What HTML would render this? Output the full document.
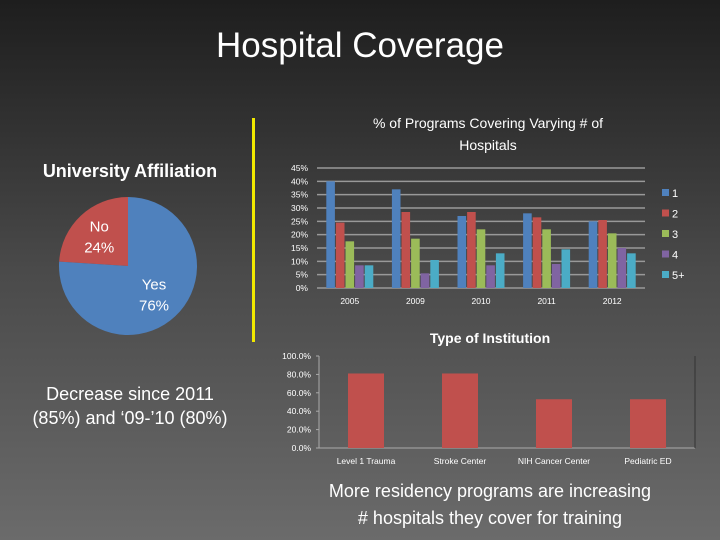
<!DOCTYPE html>
<html><head><meta charset="utf-8"><style>
html,body{margin:0;padding:0}
body{width:720px;height:540px;overflow:hidden;background:linear-gradient(#1e1e1e 0%,#333 25%,#4a4a4a 50%,#5a5a5a 75%,#6b6b6b 100%);font-family:"Liberation Sans","DejaVu Sans",sans-serif;position:relative}
.t{position:absolute;color:#fff;text-align:center}
</style></head><body>
<div class="t" style="left:0;width:720px;top:26px;font-size:35px">Hospital Coverage</div>
<div style="position:absolute;left:252px;top:118px;width:3px;height:224px;background:#f0e800"></div>
<div class="t" style="left:20px;width:220px;top:161px;font-size:18px;font-weight:bold">University Affiliation</div>
<div class="t" style="left:0;width:260px;top:382px;font-size:18px;line-height:24px">Decrease since 2011<br>(85%) and ‘09-’10 (80%)</div>
<div class="t" style="left:270px;width:440px;top:478px;font-size:18px;line-height:27px">More residency programs are increasing<br># hospitals they cover for training</div>
<svg id="s" width="720" height="540" style="position:absolute;left:0;top:0" font-family="Liberation Sans, DejaVu Sans, sans-serif"></svg>
<script>
const pieLabels=["Yes","No"];
const pieValues=[76,24];
const years=["2005","2009","2010","2011","2012"];
const seriesNames=["1","2","3","4","5+"];
const s1=[40,37,27,28,25];
const s2=[24.5,28.5,28.5,26.5,25.5];
const s3=[17.5,18.5,22,22,20.5];
const s4=[8.5,5.5,8.5,9,15];
const s5=[8.5,10.5,13,14.5,13];
const yTicks1=[0,5,10,15,20,25,30,35,40,45];
const instCats=["Level 1 Trauma","Stroke Center","NIH Cancer Center","Pediatric ED"];
const instValues=[81,81,53,53];
const yTicks2=[0,20,40,60,80,100];
const colors=["#4f81bd","#c0504d","#9bbb59","#8064a2","#4bacc6"];
const svg=document.getElementById('s');
const NS="http://www.w3.org/2000/svg";
function mk(tag,a,txt){const e=document.createElementNS(NS,tag);for(const k in a)e.setAttribute(k,a[k]);if(txt!==undefined)e.textContent=txt;svg.appendChild(e);return e;}
const cx=128,cy=266,r=69;
let ang=-90;const pieCols=["#4f81bd","#c0504d"];
const order=[1,0];
order.forEach(i=>{const sweep=pieValues[i]/100*360;const a0=ang*Math.PI/180;const a1=(ang-sweep)*Math.PI/180;
const p=mk('path',{d:`M${cx},${cy}L${cx+r*Math.cos(a0)},${cy+r*Math.sin(a0)}A${r},${r} 0 ${sweep>180?1:0} 0 ${cx+r*Math.cos(a1)},${cy+r*Math.sin(a1)}Z`,fill:pieCols[i]});


const mid=(ang-sweep/2)*Math.PI/180;const lr=i==0?38:42;
const lx=cx+lr*Math.cos(mid),ly=cy+lr*Math.sin(mid);
[pieLabels[i],pieValues[i]+"%"].forEach((t,j)=>{const e=mk('text',{x:lx,y:ly-4+j*21,'text-anchor':'middle',fill:'#fff','font-size':15},t);

});
ang-=sweep;});
const X0=317,X1=645,Y0=288,Y1=168;
const y1=v=>Y0-(v/45)*(Y0-Y1);
let e=mk('text',{x:488,y:128,'text-anchor':'middle',fill:'#fff','font-size':14},"% of Programs Covering Varying # of");

e=mk('text',{x:488,y:150,'text-anchor':'middle',fill:'#fff','font-size':14},"Hospitals");

yTicks1.forEach(t=>{const g=mk('line',{x1:X0,x2:X1,y1:y1(t),y2:y1(t),stroke:'#999','stroke-width':1.5});

const l=mk('text',{x:X0-9,y:y1(t)+3,'text-anchor':'end',fill:'#fff','font-size':8.5},t+"%");
});
const gw=(X1-X0)/years.length,bw=9.6;
const series=[s1,s2,s3,s4,s5];
years.forEach((yr,gi)=>{const gc=X0+gw*(gi+0.5);
series.forEach((sv,si)=>{const b=mk('rect',{x:gc-2.5*bw+si*bw+0.5,y:y1(sv[gi]),width:bw-1,height:Y0-y1(sv[gi]),fill:colors[si]});
});
const l=mk('text',{x:gc,y:304,'text-anchor':'middle',fill:'#fff','font-size':8.5},yr);
});
seriesNames.forEach((n,i)=>{const yy=193+i*20.5;const sq=mk('rect',{x:662,y:yy-4,width:7,height:7,fill:colors[i]});

const l=mk('text',{x:672,y:yy+4,fill:'#fff','font-size':11},n);
});
const A0=319,A1=695,B0=448,B1=356;
const y2=v=>B0-(v/100)*(B0-B1);
e=mk('text',{x:490,y:343,'text-anchor':'middle',fill:'#fff','font-size':14,'font-weight':'bold'},"Type of Institution");

mk('line',{x1:A0,x2:A0,y1:B1,y2:B0,stroke:'#aaa'});
mk('line',{x1:A0,x2:A1,y1:B0,y2:B0,stroke:'#aaa'});
mk('line',{x1:A1,x2:A1,y1:B1,y2:B0,stroke:'#333'});
yTicks2.forEach(t=>{const l=mk('text',{x:A0-8,y:y2(t)+3,'text-anchor':'end',fill:'#fff','font-size':8.5},t.toFixed(1)+"%");

mk('line',{x1:A0-3,x2:A0,y1:y2(t),y2:y2(t),stroke:'#aaa'});});
const cw=(A1-A0)/instCats.length;
instCats.forEach((c,i)=>{const cc=A0+cw*(i+0.5);
const b=mk('rect',{x:cc-18,y:y2(instValues[i]),width:36,height:B0-y2(instValues[i]),fill:'#c0504d'});

const l=mk('text',{x:cc,y:464,'text-anchor':'middle',fill:'#fff','font-size':8.5},c);
});
</script>
</body></html>
